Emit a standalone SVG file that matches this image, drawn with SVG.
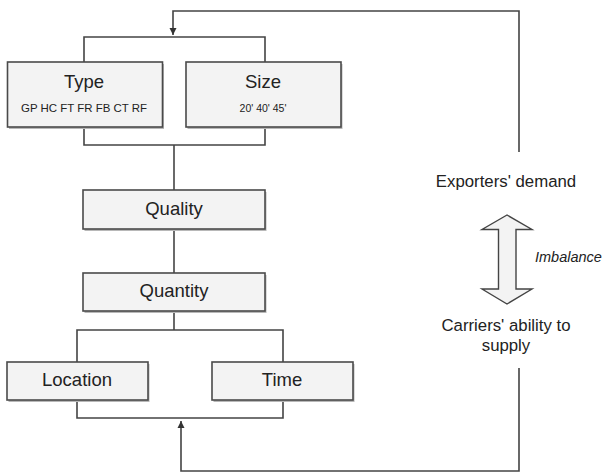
<svg xmlns="http://www.w3.org/2000/svg" width="606" height="472" viewBox="0 0 606 472">
  <style>
    .box { fill: #f3f3f3; stroke: #4a4a4a; stroke-width: 1.6; }
    .shadow { fill: #b8b8b8; }
    .wire { fill: none; stroke: #444; stroke-width: 1.6; }
    .label { font-family: "Liberation Sans", Arial, sans-serif; fill: #222; text-anchor: middle; }
    .big { font-size: 18.5px; }
    .small { font-size: 10.5px; }
    .side { font-family: "Liberation Sans", Arial, sans-serif; fill: #222; font-size: 16.8px; text-anchor: middle; }
  </style>
  <defs>
    <marker id="arrow" viewBox="0 0 10 10" refX="10" refY="5" markerWidth="4.5" markerHeight="5" orient="auto" markerUnits="strokeWidth">
      <path d="M0,0 L10,5 L0,10 Z" fill="#333"/>
    </marker>
  </defs>

  <!-- connectors -->
  <g id="connectors">
    <path class="wire" d="M84,62 V37 H265 V62"/>
    <path class="wire" d="M84,127 V145 H265 V127"/>
    <path class="wire" d="M174,145 V190"/>
    <path class="wire" d="M174,229 V273"/>
    <path class="wire" d="M174,311 V330"/>
    <path class="wire" d="M77,362 V330 H283 V362"/>
    <path class="wire" d="M77,400 V418 H283 V400"/>
    <path class="wire" d="M519,152 V11 H173 V35" marker-end="url(#arrow)"/>
    <path class="wire" d="M519,368 V471 H181 V421" marker-end="url(#arrow)"/>
  </g>

  <g id="type">
    <rect class="shadow" x="9" y="64" width="155" height="65"/>
    <rect class="box" x="7.5" y="62" width="155" height="65"/>
    <text class="label big" x="84" y="88">Type</text>
    <text class="label small" x="84" y="112" textLength="126" lengthAdjust="spacingAndGlyphs">GP HC FT FR FB CT RF</text>
  </g>

  <g id="size">
    <rect class="shadow" x="187.5" y="64" width="155" height="65"/>
    <rect class="box" x="186" y="62" width="155" height="65"/>
    <text class="label big" x="263" y="88">Size</text>
    <text class="label small" x="263" y="112">20' 40' 45'</text>
  </g>

  <g id="quality">
    <rect class="shadow" x="84.5" y="192" width="182" height="39"/>
    <rect class="box" x="83" y="190" width="182" height="39"/>
    <text class="label big" x="174" y="215">Quality</text>
  </g>

  <g id="quantity">
    <rect class="shadow" x="84.5" y="275" width="182" height="38"/>
    <rect class="box" x="83" y="273" width="182" height="38"/>
    <text class="label big" x="174" y="297">Quantity</text>
  </g>

  <g id="location">
    <rect class="shadow" x="8.5" y="364" width="141" height="38"/>
    <rect class="box" x="7" y="362" width="141" height="38"/>
    <text class="label big" x="77" y="386">Location</text>
  </g>

  <g id="time">
    <rect class="shadow" x="213.5" y="364" width="141" height="38"/>
    <rect class="box" x="212" y="362" width="141" height="38"/>
    <text class="label big" x="282" y="386">Time</text>
  </g>

  <g id="exporters-demand">
    <text class="side" x="506" y="187">Exporters' demand</text>
  </g>

  <g id="imbalance">
    <path d="M507,215 L482,229.5 L498.5,229.5 L498.5,289 L482,289 L507,304 L532,289 L516,289 L516,229.5 L532,229.5 Z"
          fill="#f3f3f3" stroke="#444" stroke-width="1.4" stroke-linejoin="miter"/>
    <text x="535" y="262" font-family="Liberation Sans, Arial, sans-serif" font-size="14.5" font-style="italic" fill="#222">Imbalance</text>
  </g>

  <g id="carriers-supply">
    <text class="side" x="506" y="331">Carriers' ability to</text>
    <text class="side" x="506" y="351">supply</text>
  </g>
</svg>
